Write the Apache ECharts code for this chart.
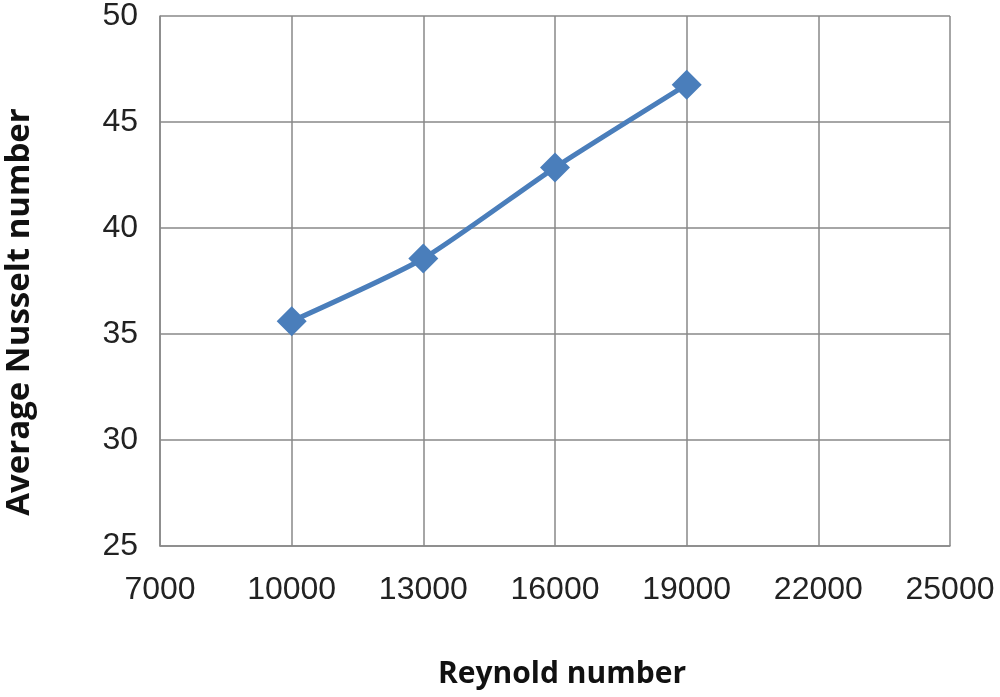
<!DOCTYPE html>
<html><head><meta charset="utf-8">
<script src="https://cdn.jsdelivr.net/npm/echarts@6/dist/echarts.min.js"></script>
<style>html,body{margin:0;padding:0;background:#fff}#c{width:1000px;height:697px}</style>
</head><body><div id="c"></div>
<script>
const reynolds = [10000, 13000, 16000, 19000];
const nusselt = [35.6, 38.56, 42.85, 46.76];
const xTitle = 'Reynold number';
const yTitle = 'Average Nusselt number';

const chart = echarts.init(document.getElementById('c'));
chart.setOption({
  animation: false,
  grid: {left: 160, right: 50, top: 13, bottom: 151},
  graphic: [
    {type: 'text', x: 562, y: 674, style: {text: xTitle, font: 'bold 30px "Open Sans"', fill: '#111', textAlign: 'center', textVerticalAlign: 'middle'}},
    {type: 'text', x: 20, y: 312, rotation: Math.PI / 2, style: {text: yTitle, font: 'bold 33px "Open Sans"', fill: '#111', textAlign: 'center', textVerticalAlign: 'middle'}}
  ],
  xAxis: {
    type: 'value', min: 7000, max: 25000, interval: 3000,
    axisLine: {show: true, lineStyle: {color: '#888', width: 1.5}},
    axisTick: {show: false},
    axisLabel: {fontFamily: 'Liberation Sans', fontSize: 32, color: '#222', margin: 28, formatter: v => String(v)},
    splitLine: {show: true, lineStyle: {color: '#888', width: 1.5}}
  },
  yAxis: {
    type: 'value', min: 25, max: 50, interval: 5,
    axisLine: {show: true, lineStyle: {color: '#888', width: 1.5}},
    axisTick: {show: false},
    axisLabel: {fontFamily: 'Liberation Sans', fontSize: 32, color: '#222', margin: 22},
    splitLine: {show: true, lineStyle: {color: '#888', width: 1.5}}
  },
  series: [{
    type: 'line',
    data: reynolds.map((r, i) => [r, nusselt[i]]),
    smooth: 0.2,
    symbol: 'diamond', symbolSize: 30,
    lineStyle: {color: '#4a7ebb', width: 5},
    itemStyle: {color: '#4a7ebb'}
  }]
});
</script></body></html>
